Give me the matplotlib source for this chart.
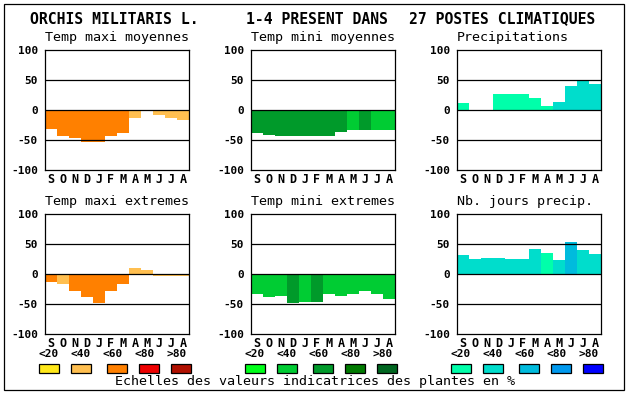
import numpy as np
import matplotlib.pyplot as plt
from matplotlib.patches import Rectangle

# ------------------------------
# Data
# ------------------------------
title_species = "ORCHIS MILITARIS L."
title_presence = "1-4 PRESENT DANS"
title_postes = "27 POSTES CLIMATIQUES"

months = ['S', 'O', 'N', 'D', 'J', 'F', 'M', 'A', 'M', 'J', 'J', 'A']
scale_labels = ['<20', '<40', '<60', '<80', '>80']

orange_scale = ['#ffe81a', '#ffbf50', '#ff8000', '#ee0000', '#b01000']
green_scale = ['#00ff1a', '#00cc33', '#009a2a', '#007a00', '#006620']
blue_scale = ['#00ffaa', '#00ddcc', '#00bbdd', '#0099ee', '#0000ff']

tmax_moy = [-31, -44, -46, -54, -53, -43, -38, -14, 0, -8, -13, -16]
tmax_moy_cls = [2, 2, 2, 2, 2, 2, 2, 1, 1, 1, 1, 1]

tmin_moy = [-38, -41, -44, -43, -44, -44, -43, -36, -33, -33, -33, -33]
tmin_moy_cls = [2, 2, 2, 2, 2, 2, 2, 2, 1, 2, 1, 1]

precip = [12, 0, -2, 27, 27, 27, 20, 7, 13, 40, 48, 43]
precip_cls = [0, 0, 0, 0, 0, 0, 0, 0, 1, 1, 1, 1]

tmax_ext = [-14, -16, -28, -38, -48, -28, -16, 10, 7, -4, -4, -4]
tmax_ext_cls = [2, 1, 2, 2, 2, 2, 2, 1, 1, 1, 1, 1]

tmin_ext = [-34, -38, -36, -48, -46, -46, -34, -36, -34, -28, -33, -41]
tmin_ext_cls = [1, 1, 1, 2, 1, 2, 1, 1, 1, 1, 1, 1]

nb_jours = [32, 25, 27, 27, 25, 25, 42, 35, 23, 53, 40, 33]
nb_jours_cls = [1, 1, 1, 1, 1, 1, 1, 0, 1, 2, 1, 1]

panels = [
    ("Temp maxi moyennes", tmax_moy, tmax_moy_cls, orange_scale),
    ("Temp mini moyennes", tmin_moy, tmin_moy_cls, green_scale),
    ("Precipitations", precip, precip_cls, blue_scale),
    ("Temp maxi extremes", tmax_ext, tmax_ext_cls, orange_scale),
    ("Temp mini extremes", tmin_ext, tmin_ext_cls, green_scale),
    ("Nb. jours precip.", nb_jours, nb_jours_cls, blue_scale),
]

# ------------------------------
# Layout (pixels)
# ------------------------------
W, H = 630, 394
MONO = 'DejaVu Sans Mono'
col_left = [45, 251, 457]
row_top = [50, 214]
box_w, box_h = 144, 120

fig = plt.figure(figsize=(W / 100, H / 100), dpi=100)


def fx(x):
    return x / W


def fy(y):
    return 1 - y / H


# outer frame
fig.patches.append(Rectangle((fx(4), fy(390)), fx(620), (386) / H, fill=False,
                             edgecolor='black', lw=0.9, transform=fig.transFigure))

fig.text(fx(30), fy(19), title_species, fontfamily=MONO, fontweight='bold',
         fontsize=10.6, va='center', ha='left')
fig.text(fx(246), fy(19), title_presence, fontfamily=MONO, fontweight='bold',
         fontsize=10.6, va='center', ha='left')
fig.text(fx(409), fy(19), title_postes, fontfamily=MONO, fontweight='bold',
         fontsize=10.6, va='center', ha='left')

x = np.arange(12) + 0.5
for i, (name, vals, cls, scale) in enumerate(panels):
    left = col_left[i % 3]
    top = row_top[i // 3]
    ax = fig.add_axes([fx(left), fy(top + box_h), box_w / W, box_h / H])
    ax.bar(x, vals, width=1.0, color=[scale[c] for c in cls], linewidth=0, zorder=1)
    for v in (50, 0, -50):
        ax.axhline(v, color='black', lw=0.9, zorder=3)
    ax.set_xlim(0, 12)
    ax.set_ylim(-100, 100)
    ax.set_yticks([-100, -50, 0, 50, 100])
    ax.set_yticklabels(['-100', '-50', '0', '50', '100'], fontfamily=MONO,
                       fontweight='bold', fontsize=8)
    ax.set_xticks(x)
    ax.set_xticklabels(months, fontfamily=MONO, fontweight='bold', fontsize=8.5)
    ax.tick_params(axis='y', length=0, pad=5)
    ax.tick_params(axis='x', length=0, pad=2)
    for s in ax.spines.values():
        s.set_linewidth(0.9)
    fig.text(fx(left), fy(top - 12), name, fontfamily=MONO, fontsize=9.6,
             va='center', ha='left')

# colour scale legend
for left, scale in zip(col_left, [orange_scale, green_scale, blue_scale]):
    for j, (lab, col) in enumerate(zip(scale_labels, scale)):
        fig.text(fx(left + 4 + 32 * j), fy(354), lab, fontfamily=MONO,
                 fontweight='bold', fontsize=8, ha='center', va='center')
        bx = left + [-6, 26, 62, 94, 126][j]
        fig.patches.append(Rectangle((fx(bx), fy(373)), 20 / W, 9 / H,
                                     facecolor=col, edgecolor='black', lw=0.9,
                                     transform=fig.transFigure))

fig.text(fx(315), fy(381), "Echelles des valeurs indicatrices des plantes en %",
         fontfamily=MONO, fontsize=9.6, ha='center', va='center')

fig.savefig('out.png', dpi=100)
